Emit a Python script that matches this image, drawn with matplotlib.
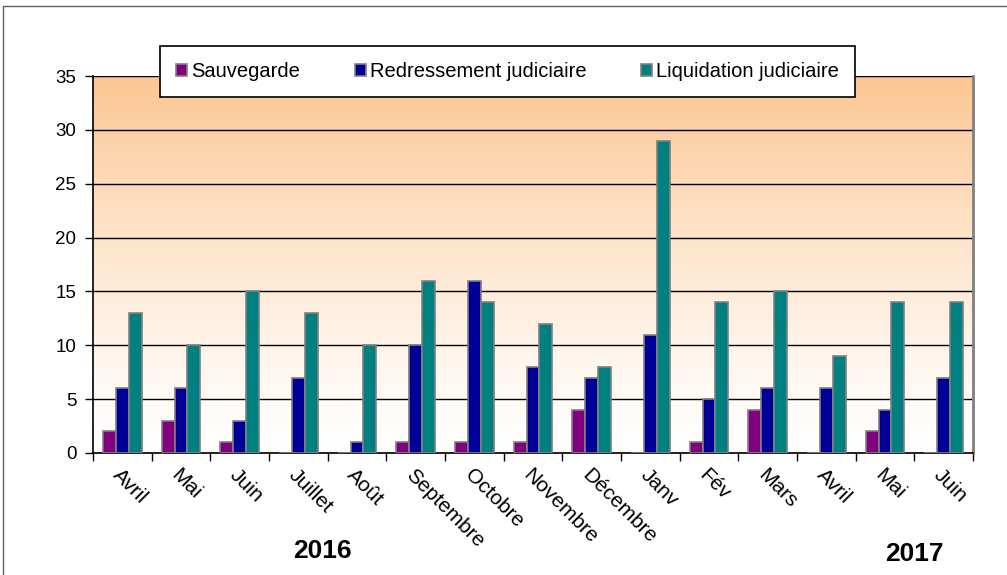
import matplotlib.pyplot as plt
import numpy as np
from matplotlib.patches import Rectangle

mois = ['Avril', 'Mai', 'Juin', 'Juillet', 'Août', 'Septembre', 'Octobre', 'Novembre',
        'Décembre', 'Janv', 'Fév', 'Mars', 'Avril', 'Mai', 'Juin']
sauvegarde = [2, 3, 1, 0, 0, 1, 1, 1, 4, 0, 1, 4, 0, 2, 0]
redressement = [6, 6, 3, 7, 1, 10, 16, 8, 7, 11, 5, 6, 6, 4, 7]
liquidation = [13, 10, 15, 13, 10, 16, 14, 12, 8, 29, 14, 15, 9, 14, 14]

plt.rcParams['font.family'] = ['Liberation Sans', 'DejaVu Sans']

fig = plt.figure(figsize=(10.07, 5.75), dpi=100)
ax = fig.add_axes([0.0924, 0.2122, 0.8738, 0.6556])

# fond dégradé orange -> blanc
grad = np.linspace(0, 1, 256).reshape(-1, 1)
top = np.array([252, 198, 146]) / 255
bot = np.array([255, 255, 255]) / 255
img = bot + (top - bot) * grad[:, :, None] ** 1.3
ax.imshow(img, extent=[0, 1, 0, 1], transform=ax.transAxes, origin='lower',
          aspect='auto', zorder=0)

x = np.arange(len(mois))
w = 0.22
kw = dict(edgecolor='#808080', linewidth=1.2, zorder=3)
ax.bar(x - w, sauvegarde, w, color='#800080', label='Sauvegarde', **kw)
ax.bar(x, redressement, w, color='#000099', label='Redressement judiciaire', **kw)
ax.bar(x + w, liquidation, w, color='#008080', label='Liquidation judiciaire', **kw)

ax.set_xlim(-0.5, len(mois) - 0.5)
ax.set_ylim(0, 35)
ax.set_yticks(range(0, 36, 5))
ax.yaxis.grid(True, color='black', linewidth=1, zorder=1)
ax.set_axisbelow(True)

ax.set_xticks(np.arange(-0.5, len(mois)), minor=False)
ax.set_xticklabels([])
ax.set_xticks(x, minor=True)
ax.set_xticklabels(mois, minor=True, rotation=-45, ha='left', va='top',
                   rotation_mode='anchor', fontsize=15)
ax.tick_params(axis='x', which='minor', length=0, pad=9)
ax.tick_params(axis='x', which='major', length=6, width=1, direction='out')
ax.tick_params(axis='y', labelsize=13.5, length=6, width=1, pad=6)

ax.spines['top'].set_visible(False)
ax.spines['right'].set_color('#808080')
ax.spines['right'].set_linewidth(2)
for s in ['left', 'bottom']:
    ax.spines[s].set_color('black')
    ax.spines[s].set_linewidth(1.2)

leg = fig.legend(loc='center', bbox_to_anchor=(0.159, 0.8296, 0.69, 0.092),
                 bbox_transform=fig.transFigure, mode='expand', ncol=3,
                 fontsize=14.5, frameon=True, fancybox=False, framealpha=1,
                 edgecolor='black', handlelength=0.55, handleheight=0.55,
                 handletextpad=0.2, borderpad=0.8, borderaxespad=0,
                 columnspacing=1.0)
leg.get_frame().set_linewidth(1.2)
leg.set_zorder(5)

fig.text(0.32, 0.03, '2016', fontsize=19, fontweight='bold', ha='center')
fig.text(0.908, 0.025, '2017', fontsize=19, fontweight='bold', ha='center')

fig.patches.append(Rectangle((0.003, -0.01), 1.1, 1.0, transform=fig.transFigure,
                             fill=False, edgecolor='#606060', linewidth=1))

fig.savefig('out.png', dpi=100)
